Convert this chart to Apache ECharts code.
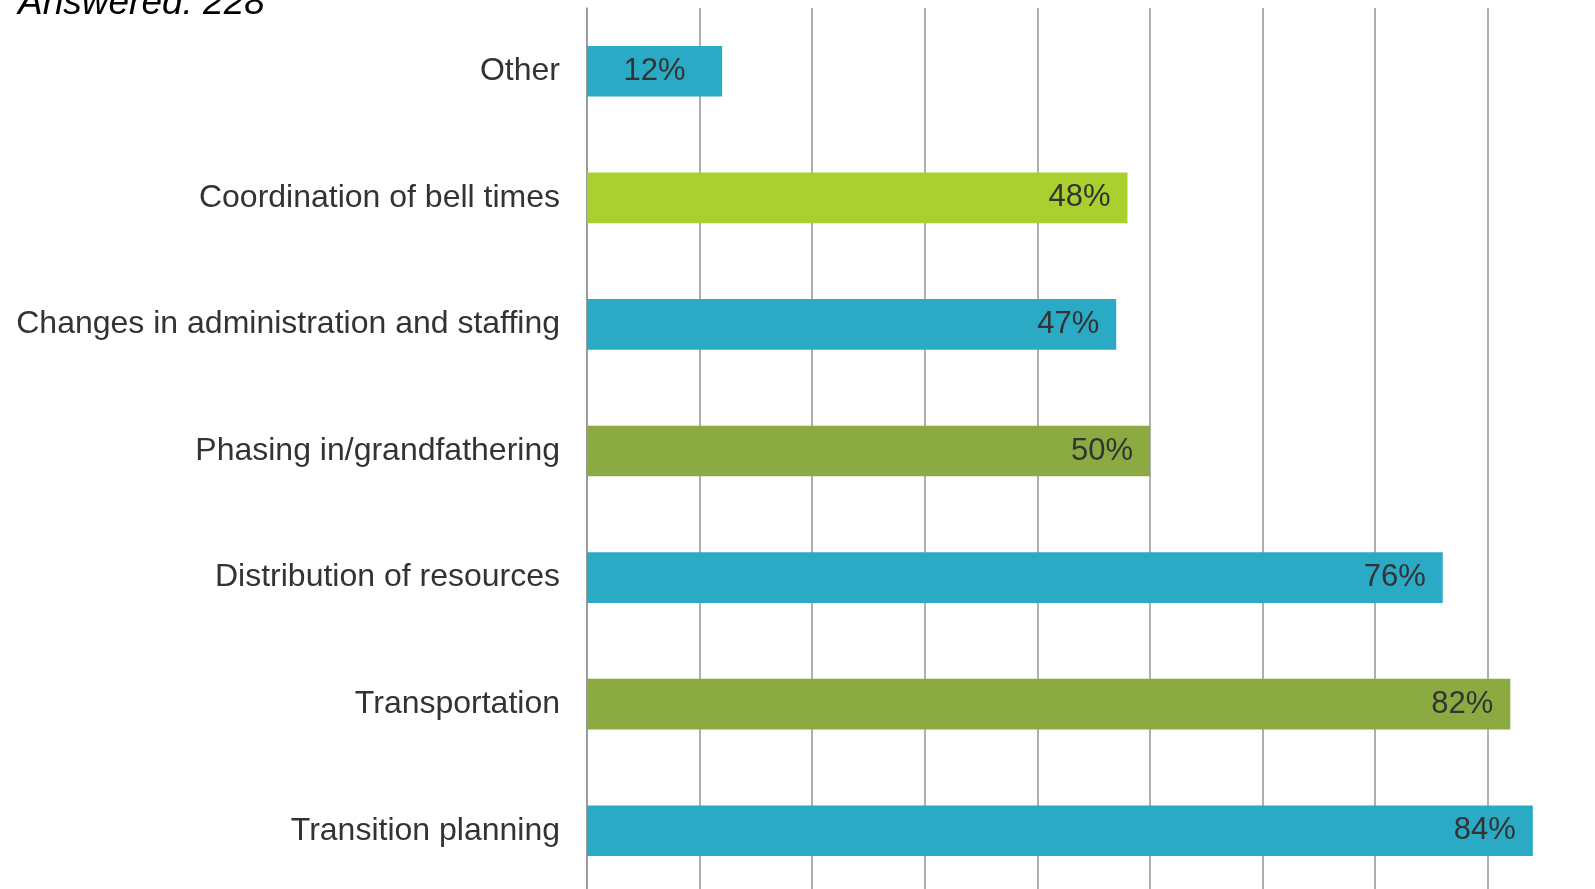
<!DOCTYPE html>
<html>
<head>
<meta charset="utf-8">
<script src="https://cdn.jsdelivr.net/npm/echarts@6/dist/echarts.min.js"></script>
<style>
  html, body { margin: 0; padding: 0; background: #fff; overflow: hidden; }
  /* the original chart is cropped on the right and bottom, so the canvas runs past the window */
  #chart { width: 1713px; height: 894px; }
</style>
</head>
<body>
<div id="chart"></div>
<script>
// top to bottom
var categories = [
  'Other',
  'Coordination of bell times',
  'Changes in administration and staffing',
  'Phasing in/grandfathering',
  'Distribution of resources',
  'Transportation',
  'Transition planning'
];
var percents = [12, 48, 47, 50, 76, 82, 84];
var answered = 228;

var barColors = ['#2BAAC6', '#A9D02F', '#2BAAC6', '#8BAA42', '#2BAAC6', '#8BAA42', '#2BAAC6'];

var chart = echarts.init(document.getElementById('chart'));

var option = {
  animation: false,
  textStyle: { fontFamily: '"Liberation Sans", Arial, sans-serif' },
  graphic: [
    {
      type: 'text',
      left: 18,
      top: -15,
      style: {
        text: 'Answered: ' + answered,
        fontSize: 37,
        fontStyle: 'italic',
        fontFamily: '"Liberation Sans", Arial, sans-serif',
        fill: '#000'
      }
    }
  ],
  grid: {
    left: 587,
    right: 0,
    top: 8,
    bottom: 0,
    containLabel: false
  },
  xAxis: {
    type: 'value',
    min: 0,
    max: 100,
    interval: 10,
    axisLabel: { show: false },
    axisLine: { show: false },
    axisTick: { show: false },
    splitLine: {
      show: true,
      lineStyle: { color: '#959595', width: 1.5 }
    }
  },
  yAxis: {
    type: 'category',
    inverse: true,
    data: categories,
    axisTick: { show: false },
    axisLine: {
      show: true,
      lineStyle: { color: '#959595', width: 1.5 }
    },
    axisLabel: {
      margin: 27,
      fontSize: 32,
      color: '#333',
      padding: [4, 0, 0, 0]
    }
  },
  series: [
    {
      type: 'bar',
      barWidth: '40%',
      data: percents.map(function (v, i) {
        var item = {
          value: v,
          itemStyle: { color: barColors[i] }
        };
        if (v < 20) {
          item.label = { position: 'inside' };
        }
        return item;
      }),
      label: {
        show: true,
        position: 'insideRight',
        distance: 17,
        fontSize: 31,
        color: '#333',
        padding: [4, 0, 0, 0],
        formatter: '{c}%'
      }
    }
  ]
};

chart.setOption(option);
</script>
</body>
</html>
